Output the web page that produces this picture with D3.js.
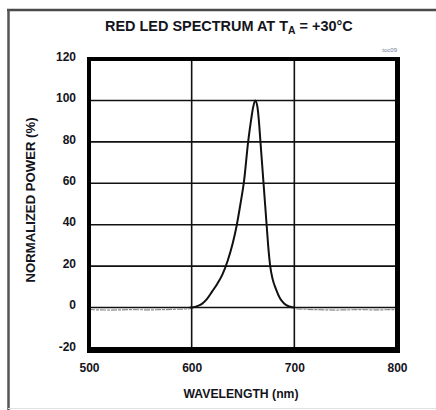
<!DOCTYPE html>
<html>
<head>
<meta charset="utf-8">
<title>red led spectrum</title>
<script src="https://d3js.org/d3.v7.min.js"></script>
<style>
  body { margin: 0; background: #fff; }
  svg text { fill: #141420; }
  .tick text { font-family: "Liberation Sans", Arial, sans-serif; font-weight: bold; font-size: 12px; }
</style>
</head>
<body>
<script>
// data
var xTicks = [500, 600, 700, 800];
var yTicks = [-20, 0, 20, 40, 60, 80, 100, 120];

// main peak (black curve)
var peakNm  = [598, 602, 606, 610, 615, 620, 625, 630, 635, 640, 644, 647.5, 651, 655, 658, 660, 662, 664, 665.5, 667, 670, 671.5, 673, 674.5, 676.5, 679, 682, 686, 690, 695, 700];
var peakPow = [0, 0.2, 0.8, 1.8, 4.2, 7.8, 11.5, 16, 22.5, 31, 40, 50, 61, 80, 91, 97, 100, 97, 90, 80, 60, 50, 40, 30, 20, 13.5, 9, 4.5, 2, 0.5, 0];

// noisy floor outside the peak (light grey)
var floorNm  = [500, 520, 540, 560, 580, 598, 702, 720, 740, 760, 780, 800];
var floorPow = [-1, -1.2, -1, -1.1, -0.9, -0.6, -0.6, -1, -1.2, -1, -1.1, -1];

var width = 436, height = 410;
var svg = d3.select("body").append("svg").attr("width", width).attr("height", height);

var x = d3.scaleLinear().domain([500, 800]).range([89, 397]);
var y = d3.scaleLinear().domain([-20, 120]).range([349, 59]);

// outer page frame
svg.append("line").attr("x1", 7).attr("x2", width).attr("y1", 10).attr("y2", 10)
    .attr("stroke", "#4a4a4a").attr("stroke-width", 2.5);
svg.append("line").attr("x1", 8.5).attr("x2", 8.5).attr("y1", 9).attr("y2", height)
    .attr("stroke", "#555").attr("stroke-width", 2.5);
svg.append("line").attr("x1", 8).attr("x2", width).attr("y1", 408.5).attr("y2", 408.5)
    .attr("stroke", "#e2e2e2").attr("stroke-width", 1);

// grid
var grid = svg.append("g");
grid.selectAll("line.v").data(xTicks.slice(1, -1)).enter().append("line")
    .attr("x1", function(d){ return x(d); }).attr("x2", function(d){ return x(d); })
    .attr("y1", y(120)).attr("y2", y(-20))
    .attr("stroke", "#111").attr("stroke-width", 1.6);
grid.selectAll("line.h").data(yTicks.slice(1, -1)).enter().append("line")
    .attr("y1", function(d){ return y(d); }).attr("y2", function(d){ return y(d); })
    .attr("x1", x(500)).attr("x2", x(800))
    .attr("stroke", "#111").attr("stroke-width", 1.6);

// floor segments
var floorPts = floorNm.map(function(d, i){ return [d, floorPow[i]]; });
var line = d3.line().x(function(d){ return x(d[0]); }).y(function(d){ return y(d[1]); });
svg.append("path").datum(floorPts.filter(function(d){ return d[0] <= 600; }))
    .attr("d", line).attr("fill", "none").attr("stroke", "#8a8a8a")
    .attr("stroke-width", 1.2).attr("stroke-dasharray", "6,1,3,1");
svg.append("path").datum(floorPts.filter(function(d){ return d[0] >= 700; }))
    .attr("d", line).attr("fill", "none").attr("stroke", "#8a8a8a")
    .attr("stroke-width", 1.2).attr("stroke-dasharray", "6,1,3,1");

// peak
var peakPts = peakNm.map(function(d, i){ return [d, peakPow[i]]; });
svg.append("path").datum(peakPts)
    .attr("d", line.curve(d3.curveMonotoneX))
    .attr("fill", "none").attr("stroke", "#111").attr("stroke-width", 2);

// heavy plot frame (thicker on right and bottom)
svg.append("rect").attr("x", x(500)).attr("y", y(120))
    .attr("width", x(800) - x(500)).attr("height", y(-20) - y(120))
    .attr("fill", "none").attr("stroke", "#000").attr("stroke-width", 4);
svg.append("line").attr("x1", x(800) + 1.5).attr("x2", x(800) + 1.5)
    .attr("y1", y(120) - 2).attr("y2", y(-20) + 4)
    .attr("stroke", "#000").attr("stroke-width", 3);
svg.append("line").attr("x1", x(500) - 2).attr("x2", x(800) + 3)
    .attr("y1", y(-20) + 2.5).attr("y2", y(-20) + 2.5)
    .attr("stroke", "#000").attr("stroke-width", 3);

// axes (labels only)
var yAxis = svg.append("g").attr("transform", "translate(" + (x(500) - 13) + ",0)")
    .call(d3.axisLeft(y).tickValues(yTicks).tickSize(0).tickPadding(0)
        .tickFormat(function(d){ return String(d); }));
yAxis.select(".domain").remove();
yAxis.selectAll(".tick text").attr("dy", "0.1em");

var xAxis = svg.append("g").attr("transform", "translate(0," + (y(-20) + 14) + ")")
    .call(d3.axisBottom(x).tickValues(xTicks).tickSize(0).tickPadding(0));
xAxis.select(".domain").remove();
xAxis.selectAll(".tick text").attr("dy", "0.75em");

// title
var title = svg.append("text").attr("x", 105).attr("y", 31)
    .attr("font-family", "'Liberation Sans Narrow', 'Liberation Sans', Arial, sans-serif")
    .attr("font-weight", "bold").attr("font-size", 14);
title.append("tspan").text("RED LED SPECTRUM AT T");
title.append("tspan").attr("font-size", 10).attr("dy", 3).text("A");
title.append("tspan").attr("dy", -3).text(" = +30°C");
var tw = title.node().getComputedTextLength();
title.attr("transform", "translate(105,0) scale(" + (248 / tw) + ",1) translate(-105,0)");

// figure code
svg.append("text").attr("x", 397).attr("y", 52).attr("text-anchor", "end")
    .attr("font-family", "Arial, sans-serif").attr("font-size", 6)
    .style("fill", "#6a7a9a").text("toc09");

// axis titles
svg.append("text").attr("x", 241).attr("y", 398).attr("text-anchor", "middle")
    .attr("font-family", "'Liberation Sans Narrow', 'Liberation Sans', Arial, sans-serif")
    .attr("font-weight", "bold").attr("font-size", 12)
    .attr("textLength", 115).attr("lengthAdjust", "spacingAndGlyphs")
    .text("WAVELENGTH (nm)");

svg.append("text").attr("transform", "translate(35,200) rotate(-90)").attr("text-anchor", "middle")
    .attr("font-family", "'Liberation Sans Narrow', 'Liberation Sans', Arial, sans-serif")
    .attr("font-weight", "bold").attr("font-size", 12)
    .attr("textLength", 165).attr("lengthAdjust", "spacingAndGlyphs")
    .text("NORMALIZED POWER (%)");
</script>
</body>
</html>
